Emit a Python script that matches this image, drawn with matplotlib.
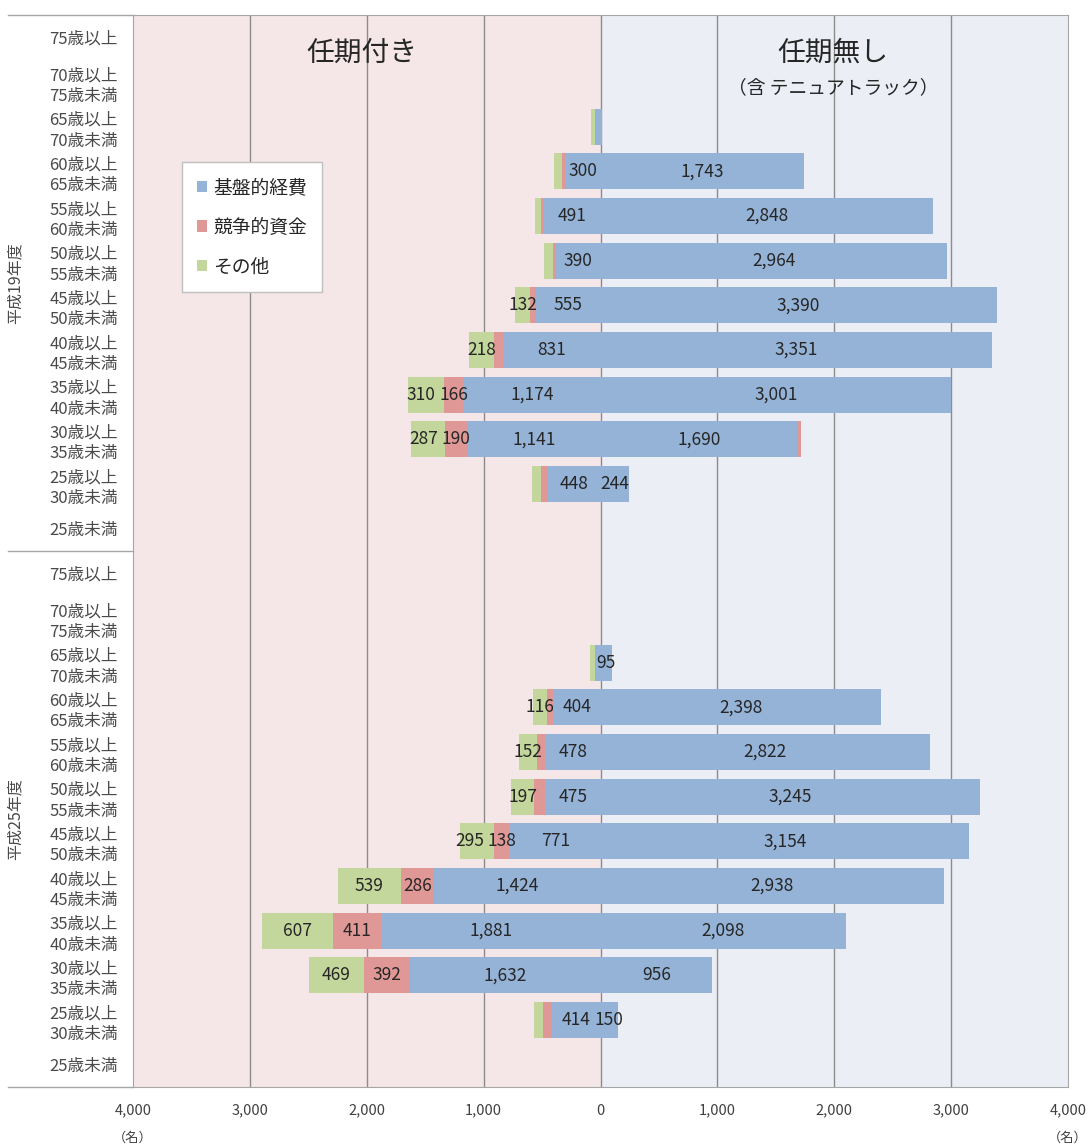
import matplotlib
matplotlib.use("Agg")
import matplotlib.pyplot as plt
import matplotlib.transforms as mtransforms
from matplotlib.patches import Patch
import numpy as np

plt.rcParams['font.family'] = ['Noto Sans CJK JP', 'DejaVu Sans']

# 年齢階層（上から順）
age_labels = ['75歳以上', '70歳以上\n75歳未満', '65歳以上\n70歳未満', '60歳以上\n65歳未満',
              '55歳以上\n60歳未満', '50歳以上\n55歳未満', '45歳以上\n50歳未満', '40歳以上\n45歳未満',
              '35歳以上\n40歳未満', '30歳以上\n35歳未満', '25歳以上\n30歳未満', '25歳未満']
group_labels = ['平成19年度', '平成25年度']
series_names = ['基盤的経費', '競争的資金', 'その他']

# 平成19年度 任期付き（左）
h19_fixed_kiban = [0, 0, 40, 300, 491, 390, 555, 831, 1174, 1141, 448, 0]
h19_fixed_kyoso = [0, 0, 3, 28, 15, 20, 45, 77, 166, 190, 60, 0]
h19_fixed_other = [0, 0, 35, 74, 57, 70, 132, 218, 310, 287, 77, 0]
# 平成19年度 任期無し（右）
h19_perm_kiban = [0, 0, 15, 1743, 2848, 2964, 3390, 3351, 3001, 1690, 244, 0]
h19_perm_kyoso = [0, 0, 0, 0, 0, 0, 0, 0, 0, 25, 0, 0]
h19_perm_other = [0, 0, 0, 0, 0, 0, 0, 0, 0, 0, 0, 0]

# 平成25年度 任期付き（左）
h25_fixed_kiban = [0, 0, 40, 404, 478, 475, 771, 1424, 1881, 1632, 414, 0]
h25_fixed_kyoso = [0, 0, 5, 57, 66, 90, 138, 286, 411, 392, 77, 0]
h25_fixed_other = [0, 0, 45, 116, 152, 197, 295, 539, 607, 469, 80, 0]
# 平成25年度 任期無し（右）
h25_perm_kiban = [0, 0, 95, 2398, 2822, 3245, 3154, 2938, 2098, 956, 150, 0]
h25_perm_kyoso = [0, 0, 0, 0, 0, 0, 0, 0, 0, 0, 0, 0]
h25_perm_other = [0, 0, 0, 0, 0, 0, 0, 0, 0, 0, 0, 0]

colors = ['#95b3d7', '#e09896', '#c3d69b']
LABEL_MIN = 95
CHAR_W = 82    # 数字1文字の幅（x軸の単位）
LABEL_GAP = 30

fixed = [np.array(h19_fixed_kiban + h25_fixed_kiban),
         np.array(h19_fixed_kyoso + h25_fixed_kyoso),
         np.array(h19_fixed_other + h25_fixed_other)]
perm = [np.array(h19_perm_kiban + h25_perm_kiban),
        np.array(h19_perm_kyoso + h25_perm_kyoso),
        np.array(h19_perm_other + h25_perm_other)]
y = np.arange(len(age_labels) * 2)

fig = plt.figure(figsize=(10.91, 11.46), dpi=100)
ax = fig.add_axes([133 / 1091, 1 - 1087 / 1146, 935 / 1091, 1072 / 1146])

ax.axvspan(-4000, 0, color='#f5e6e7', zorder=0)
ax.axvspan(0, 4000, color='#ebeef5', zorder=0)
for gx in range(-3000, 4000, 1000):
    ax.axvline(gx, color='#8c8c8c', lw=1, zorder=1)

# 左：任期付き（マイナス方向に積み上げ）
left = np.zeros(len(y))
label_edge = np.full(len(y), np.inf)   # 直前のラベルの左端
for vals, c in zip(fixed, colors):
    ax.barh(y, -vals, left=-left, height=0.8, color=c, zorder=2)
    for i, (yi, v, l) in enumerate(zip(y, vals, left)):
        if v >= LABEL_MIN:
            s = f'{v:,}'
            half = len(s) * CHAR_W / 2
            xc = -(l + v / 2)
            # 隣のラベルと重なる場合は左へずらす
            if xc + half > label_edge[i] - LABEL_GAP:
                xc = label_edge[i] - LABEL_GAP - half
            ax.text(xc, yi, s, ha='center', va='center',
                    fontsize=12.5, color='#262626', zorder=3)
            label_edge[i] = xc - half
    left = left + vals

# 右：任期無し
left = np.zeros(len(y))
for vals, c in zip(perm, colors):
    ax.barh(y, vals, left=left, height=0.8, color=c, zorder=2)
    for yi, v, l in zip(y, vals, left):
        if v >= LABEL_MIN:
            ax.text(l + v / 2, yi, f'{v:,}', ha='center', va='center',
                    fontsize=12.5, color='#262626', zorder=3)
    left = left + vals

ax.set_xlim(-4000, 4000)
ax.set_ylim(len(y) - 0.5, -0.5)
ax.set_xticks(range(-4000, 4001, 1000))
ax.set_xticklabels([f'{abs(v):,}' for v in range(-4000, 4001, 1000)], fontsize=10.5, color='#404040')
ax.set_yticks(y)
ax.set_yticklabels(age_labels * 2, fontsize=12, color='#4a4a4a', linespacing=1.3)
ax.tick_params(axis='both', length=0)
ax.tick_params(axis='x', pad=12)
ax.tick_params(axis='y', pad=11)
for s in ax.spines.values():
    s.set_color('#a6a6a6')

# 年度の区切り線と見出し
trans = mtransforms.blended_transform_factory(ax.transAxes, ax.transData)
for yb in [-0.5, 11.5, 23.5]:
    ax.plot([-0.134, 0], [yb, yb], transform=trans, color='#a6a6a6', lw=1, clip_on=False)
for i, g in enumerate(group_labels):
    ax.text(-0.126, 5.5 + 12 * i, g, transform=trans, rotation=90, ha='center', va='center',
            fontsize=11.5, color='#4a4a4a')

ax.text(-2040, 0.35, '任期付き', ha='center', va='center', fontsize=20, color='#262626')
ax.text(1990, 0.35, '任期無し', ha='center', va='center', fontsize=20, color='#262626')
ax.text(1990, 1.12, '（含 テニュアトラック）', ha='center', va='center', fontsize=13.5, color='#262626')

ax.text(0, -0.048, '（名）', transform=ax.transAxes, ha='center', va='center', fontsize=9.5, color='#404040')
ax.text(1, -0.048, '（名）', transform=ax.transAxes, ha='center', va='center', fontsize=9.5, color='#404040')

handles = [Patch(facecolor=c, edgecolor='none') for c in colors]
leg = ax.legend(handles, series_names, loc='upper left', bbox_to_anchor=(0.052, 0.863),
                fontsize=13.5, handlelength=0.55, handleheight=0.55, handletextpad=0.35,
                labelspacing=1.0, borderpad=0.8, borderaxespad=0, fancybox=False,
                framealpha=1, edgecolor='#bfbfbf')
for t in leg.get_texts():
    t.set_color('#262626')

fig.savefig('out.png', dpi=100, facecolor='white')
